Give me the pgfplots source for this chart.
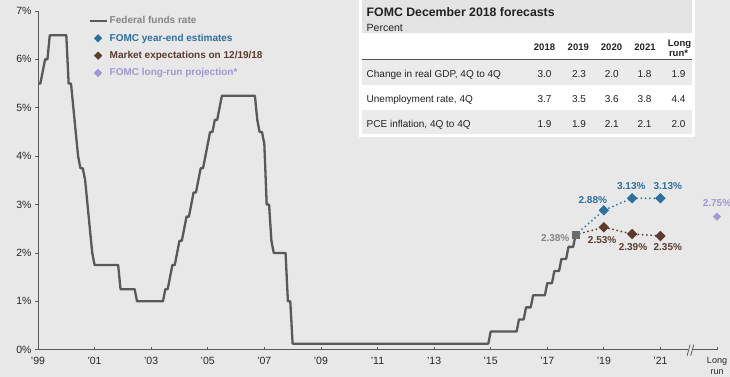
\documentclass[border=0pt]{standalone}
\usepackage{pgfplots}
\pgfplotsset{compat=1.18}
\usepackage{fontspec}
\setmainfont{Liberation Sans}
\definecolor{bg}{HTML}{E8E8E8}
\definecolor{hdr}{HTML}{E4E4E4}
\definecolor{rowg}{HTML}{EBEBEB}
\definecolor{fedc}{HTML}{595959}
\definecolor{fedtext}{HTML}{858585}
\definecolor{sqc}{HTML}{6A6A6A}
\definecolor{fomcblue}{HTML}{2E6F9E}
\definecolor{mktbrown}{HTML}{5C3B2E}
\definecolor{lrpurple}{HTML}{A396D3}
\definecolor{axisgray}{HTML}{5A5A5A}
\definecolor{tickc}{HTML}{262626}
\definecolor{tabtext}{HTML}{222222}
\definecolor{lbl238}{HTML}{858585}
\begin{document}
\begin{tikzpicture}[x=1pt,y=1pt]
\fill[bg] (0pt,0pt) rectangle (730pt,377pt);
\begin{axis}[
  at={(38pt,27.3pt)}, anchor=south west,
  scale only axis, width=679pt, height=338.7pt,
  xmin=2000, xmax=2024, ymin=0, ymax=7,
  axis x line=bottom, axis y line=left,
  axis line style={color=axisgray, line width=0.8pt, -},
  xtick={2000,2002,2004,2006,2008,2010,2012,2014,2016,2018,2020,2022},
  xticklabels={'99,'01,'03,'05,'07,'09,'11,'13,'15,'17,'19,'21},
  extra x ticks={2024},
  extra x tick labels={{Long\\run}},
  extra x tick style={xticklabel style={font=\fontsize{9}{11.5}\selectfont, yshift=0pt}},
  ytick={0,1,2,3,4,5,6,7},
  yticklabel={\pgfmathprintnumber{\tick}\%},
  /pgf/number format/assume math mode=true,
  tick align=inside, major tick length=3pt,
  y tick style={xshift=-3pt},
  tick style={color=axisgray, line width=0.8pt},
  xticklabel style={font=\fontsize{10.5}{12}\selectfont, text=tickc, align=center, yshift=-4pt},
  yticklabel style={font=\fontsize{10.5}{12}\selectfont, text=tickc, xshift=-3pt},
  clip=false,
  legend cell align=left,
  legend style={at={(0.074,0.99)}, anchor=north west, draw=none, fill=none,
    font=\bfseries\fontsize{10}{12}\selectfont, row sep=4.6pt, inner sep=0pt},
]
\addlegendimage{fedc, line width=2.2pt}
\addlegendentry{\textcolor{fedtext}{Federal funds rate}}
\addlegendimage{only marks, mark=square*, mark options={rotate=45}, mark size=2.7pt, fomcblue}
\addlegendentry{\textcolor{fomcblue}{FOMC year-end estimates}}
\addlegendimage{only marks, mark=square*, mark options={rotate=45}, mark size=2.7pt, mktbrown}
\addlegendentry{\textcolor{mktbrown}{Market expectations on 12/19/18}}
\addlegendimage{only marks, mark=square*, mark options={rotate=45}, mark size=2.7pt, lrpurple}
\addlegendentry{\textcolor{lrpurple}{FOMC long-run projection*}}

\addplot[fedc, line width=2.3pt, line join=round, forget plot] coordinates {
(2000.000,5.50) (2000.083,5.50) (2000.167,5.75) (2000.250,6.00) (2000.333,6.00)
(2000.417,6.50) (2001.000,6.50) (2001.083,5.50) (2001.167,5.50) (2001.250,5.00)
(2001.333,4.50) (2001.417,4.00) (2001.500,3.75) (2001.583,3.75) (2001.667,3.50)
(2001.750,3.00) (2001.833,2.50) (2001.917,2.00) (2002.000,1.75) (2002.833,1.75)
(2002.917,1.25) (2003.417,1.25) (2003.500,1.00) (2004.417,1.00) (2004.500,1.25)
(2004.583,1.25) (2004.667,1.50) (2004.750,1.75) (2004.833,1.75) (2004.917,2.00)
(2005.000,2.25) (2005.083,2.25) (2005.167,2.50) (2005.250,2.75) (2005.333,2.75)
(2005.417,3.00) (2005.500,3.25) (2005.583,3.25) (2005.667,3.50) (2005.750,3.75)
(2005.833,3.75) (2005.917,4.00) (2006.000,4.25) (2006.083,4.50) (2006.167,4.50)
(2006.250,4.75) (2006.333,4.75) (2006.417,5.00) (2006.500,5.25) (2007.667,5.25)
(2007.750,4.75) (2007.833,4.50) (2007.917,4.50) (2008.000,4.25) (2008.083,3.00)
(2008.167,3.00) (2008.250,2.25) (2008.333,2.00) (2008.750,2.00) (2008.833,1.00)
(2008.917,1.00) (2009.000,0.125) (2015.917,0.125) (2016.000,0.375) (2016.917,0.375)
(2017.000,0.625) (2017.167,0.625) (2017.250,0.875) (2017.417,0.875) (2017.500,1.125)
(2017.917,1.125) (2018.000,1.375) (2018.167,1.375) (2018.250,1.625) (2018.417,1.625)
(2018.500,1.875) (2018.667,1.875) (2018.750,2.125) (2018.917,2.125) (2019.000,2.375)
};
\addplot[fomcblue, line width=2pt, dash pattern=on 0pt off 4.3pt, line cap=round,
  mark=square*, mark size=2.7pt, mark options={solid, rotate=45}, mark indices={2,3,4}, forget plot]
  coordinates {(2019,2.375) (2020,2.88) (2021,3.13) (2022,3.13)};
\addplot[mktbrown, line width=2pt, dash pattern=on 0pt off 4.3pt, line cap=round,
  mark=square*, mark size=2.7pt, mark options={solid, rotate=45}, mark indices={2,3,4}, forget plot]
  coordinates {(2019,2.375) (2020,2.53) (2021,2.39) (2022,2.35)};
\addplot[only marks, mark=square*, mark size=3.6pt, sqc, forget plot] coordinates {(2019,2.375)};
\addplot[only marks, mark=square*, mark size=2.7pt, mark options={rotate=45}, lrpurple, forget plot] coordinates {(2024,2.75)};

\tikzset{lbl/.style={font=\bfseries\fontsize{10}{12}\selectfont, inner sep=0pt}}
\node[lbl, text=lbl238] at (axis cs:2018.28,2.31) {2.38\%};
\node[lbl, text=fomcblue] at (axis cs:2019.61,3.10) {2.88\%};
\node[lbl, text=fomcblue] at (axis cs:2020.97,3.39) {3.13\%};
\node[lbl, text=fomcblue] at (axis cs:2022.26,3.39) {3.13\%};
\node[lbl, text=mktbrown] at (axis cs:2019.94,2.27) {2.53\%};
\node[lbl, text=mktbrown] at (axis cs:2021.03,2.13) {2.39\%};
\node[lbl, text=mktbrown] at (axis cs:2022.26,2.13) {2.35\%};
\node[lbl, text=lrpurple] at (axis cs:2024.0,3.04) {2.75\%};

% axis break
\fill[bg] ([xshift=-2.5pt,yshift=-2pt]axis cs:2023.06,0) rectangle ([xshift=2.5pt,yshift=2pt]axis cs:2023.06,0);
\draw[axisgray, line width=0.8pt] ([xshift=-3.3pt,yshift=-6pt]axis cs:2023.06,0) -- ++(3pt,11pt);
\draw[axisgray, line width=0.8pt] ([xshift=0.3pt,yshift=-6pt]axis cs:2023.06,0) -- ++(3pt,11pt);
\end{axis}

% forecast table (y measured downward from the top)
\begin{scope}[shift={(0pt,377pt)}, y=-1pt]
\fill[white] (359,0) rectangle (695,137.5);
\fill[hdr] (362,0) rectangle (692,33);
\fill[rowg] (362,60) rectangle (692,85);
\fill[rowg] (362,110) rectangle (692,134.5);
\draw[gray!65!black, line width=0.9pt] (362,59.5) -- (692,59.5);
\tikzset{tt/.style={inner sep=0pt, text=tabtext, font=\fontsize{10}{12}\selectfont},
         tb/.style={inner sep=0pt, text=tabtext, font=\bfseries\fontsize{9.5}{11}\selectfont}}
\node[inner sep=0pt, text=tabtext, font=\bfseries\fontsize{12.3}{14}\selectfont, anchor=base west] at (366.5,16.7) {FOMC December 2018 forecasts};
\node[tt, anchor=base west, font=\fontsize{10.5}{12}\selectfont] at (366.5,31.7) {Percent};
\node[tb, anchor=base] at (544.5,51) {2018};
\node[tb, anchor=base] at (578.3,51) {2019};
\node[tb, anchor=base] at (611.5,51) {2020};
\node[tb, anchor=base] at (645,51) {2021};
\node[tb, anchor=base] at (679.5,46.7) {Long};
\node[tb, anchor=base] at (678.5,57) {run*};
\node[tt, anchor=base west] at (366.5,77.3) {Change in real GDP, 4Q to 4Q};
\node[tt, anchor=base west] at (366.5,103) {Unemployment rate, 4Q};
\node[tt, anchor=base west] at (366.5,127.7) {PCE inflation, 4Q to 4Q};
\node[tt, anchor=base] at (544.5,77.3) {3.0};
\node[tt, anchor=base] at (579,77.3) {2.3};
\node[tt, anchor=base] at (611.7,77.3) {2.0};
\node[tt, anchor=base] at (644.5,77.3) {1.8};
\node[tt, anchor=base] at (678.5,77.3) {1.9};
\node[tt, anchor=base] at (544.5,103) {3.7};
\node[tt, anchor=base] at (579,103) {3.5};
\node[tt, anchor=base] at (611.7,103) {3.6};
\node[tt, anchor=base] at (644.5,103) {3.8};
\node[tt, anchor=base] at (678.5,103) {4.4};
\node[tt, anchor=base] at (544.5,127.7) {1.9};
\node[tt, anchor=base] at (579,127.7) {1.9};
\node[tt, anchor=base] at (611.7,127.7) {2.1};
\node[tt, anchor=base] at (644.5,127.7) {2.1};
\node[tt, anchor=base] at (678.5,127.7) {2.0};
\end{scope}
\pgfresetboundingbox
\path[use as bounding box] (0pt,0pt) rectangle (730pt,377pt);
\end{tikzpicture}
\end{document}
